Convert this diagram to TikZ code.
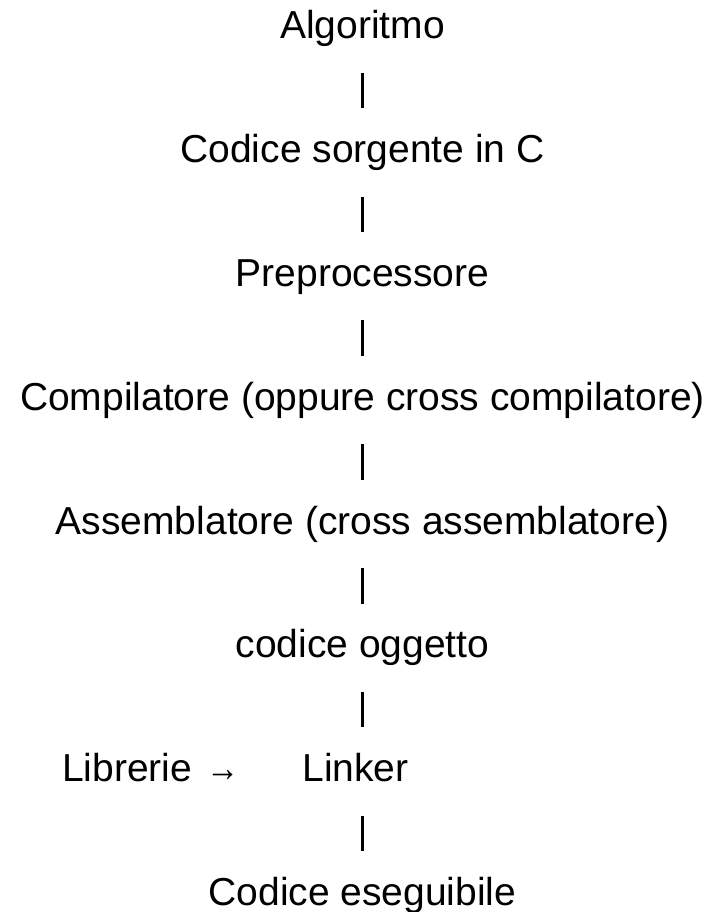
\documentclass[tikz,border=0pt]{standalone}
\usepackage{fontspec}
\setmainfont{Liberation Sans}
\begin{document}
\begin{tikzpicture}[x=1pt,y=-1pt,
  stage/.style={anchor=south,inner sep=0pt,text height=28pt,text depth=0pt,
    font=\fontsize{39}{47}\selectfont},
  link/.style={line width=3.4pt,shorten <=33.7pt,shorten >=26pt}]
  \useasboundingbox (0,0) rectangle (710,912);
  % column of processing stages, baselines every 123.8pt
  \node[stage] (algo) at (362.5,39)    {Algoritmo};
  \node[stage] (src)  at (362.5,162.8) {Codice sorgente in C};
  \node[stage] (pre)  at (362.5,286.6) {Preprocessore};
  \node[stage] (comp) at (362.5,410.4) {Compilatore (oppure cross compilatore)};
  \node[stage] (asm)  at (362.5,534.2) {Assemblatore (cross assemblatore)};
  \node[stage] (obj)  at (362.5,658)   {codice oggetto};
  \node[stage] (lnk)  at (355.5,781.8) {Linker};
  \node[stage,anchor=south west] (lib) at (62,781.8) {Librerie\hspace{14pt}\scalebox{0.85}[1]{→}};
  \node[stage] (exe)  at (362.5,905.6) {Codice eseguibile};
  % vertical links between stages
  \draw[link] (algo.south) -- (src.north);
  \draw[link] (src.south) -- (pre.north);
  \draw[link] (pre.south) -- (comp.north);
  \draw[link] (comp.south) -- (asm.north);
  \draw[link] (asm.south) -- (obj.north);
  \draw[link] (obj.south) -- (obj.south |- lnk.north);
  \draw[link] (exe.north |- lnk.south) -- (exe.north);
\end{tikzpicture}
\end{document}
